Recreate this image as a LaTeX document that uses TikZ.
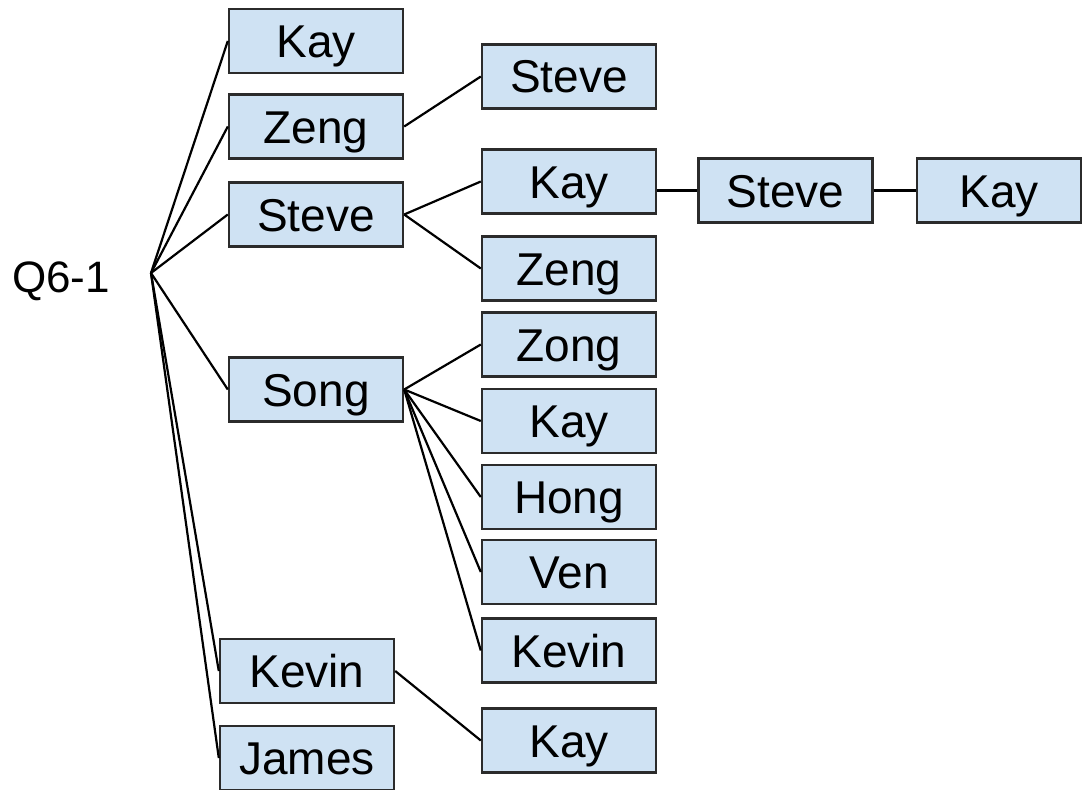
\documentclass[tikz,border=0pt]{standalone}
\usepackage{fontspec}
\setmainfont{Liberation Sans}
\definecolor{boxblue}{HTML}{CFE2F3}
\definecolor{boxedge}{HTML}{2B2B2B}
\begin{document}
\begin{tikzpicture}[x=1pt,y=-1pt,
  namebox/.style={draw=boxedge, fill=boxblue, line width=2.4pt, minimum width=174pt,
    minimum height=64pt, inner sep=0pt, font=\fontsize{46}{50}\selectfont,
    text height=33pt, text depth=0pt},
  link/.style={draw=black, line width=2.2pt}]
\useasboundingbox (0,0) rectangle (1083,789);
% root
\node[anchor=base west, inner sep=0pt, font=\fontsize{44}{48}\selectfont] (q) at (12,292) {Q6-1};
\coordinate (root) at (151,273);
% level 1
\node[namebox] (kay1) at (316,41) {Kay};
\node[namebox] (zeng1) at (316,126.5) {Zeng};
\node[namebox] (steve1) at (316,214.5) {Steve};
\node[namebox] (song1) at (316,389.5) {Song};
\node[namebox] (kevin1) at (307,671) {Kevin};
\node[namebox] (james1) at (307,758) {James};
% level 2
\node[namebox] (steve2) at (569,76.5) {Steve};
\node[namebox] (kay2) at (569,181.5) {Kay};
\node[namebox] (zeng2) at (569,268.5) {Zeng};
\node[namebox] (zong2) at (569,344.5) {Zong};
\node[namebox] (kay2b) at (569,421) {Kay};
\node[namebox] (hong2) at (569,497) {Hong};
\node[namebox] (ven2) at (569,572) {Ven};
\node[namebox] (kevin2) at (569,650.5) {Kevin};
\node[namebox] (kay2c) at (569,740.5) {Kay};
% level 3
\node[namebox] (steve3) at (785.5,190.5) {Steve};
\node[namebox, minimum width=164pt] (kay3) at (999,190.5) {Kay};
% connectors
\foreach \n in {kay1,zeng1,steve1,song1,kevin1,james1}
  \draw[link] (root) -- (\n.west);
\draw[link] (zeng1.east) -- (steve2.west);
\draw[link] (steve1.east) -- (kay2.west);
\draw[link] (steve1.east) -- (zeng2.west);
\foreach \n in {zong2,kay2b,hong2,ven2,kevin2}
  \draw[link] (song1.east) -- (\n.west);
\draw[link] (kevin1.east) -- (kay2c.west);
\draw[link] (kay2.east |- steve3.west) -- (steve3.west);
\draw[link] (steve3.east) -- (kay3.west);
\end{tikzpicture}
\end{document}
